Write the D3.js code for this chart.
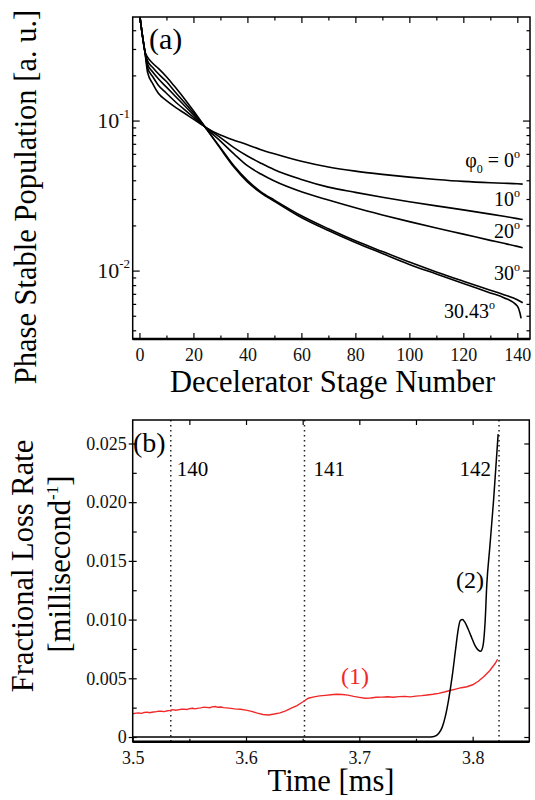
<!DOCTYPE html>
<html>
<head>
<meta charset="utf-8">
<script src="https://cdn.jsdelivr.net/npm/d3@7"></script>
<style>
  body { margin: 0; background: #fff; }
  svg { display: block; }
  svg text { font-family: 'Liberation Serif', 'Times New Roman', serif; }
</style>
</head>
<body>
<div id="chart"></div>
<script>
// ---- panel (a): phase stable population vs stage ----
const stages = [0, 1, 2, 3, 5, 7, 10, 13, 18, 23, 25, 30, 35, 40, 45, 50, 60, 70, 80, 90, 100, 110, 120, 130, 135, 140, 142];
const pop0  = [0.52, 0.38, 0.29, 0.21, 0.175, 0.152, 0.136, 0.124, 0.108, 0.094, 0.089, 0.080, 0.074, 0.069, 0.064, 0.060, 0.0535, 0.049, 0.046, 0.0438, 0.042, 0.0405, 0.0393, 0.0385, 0.0382, 0.0379, 0.0377];
const pop10 = [0.52, 0.38, 0.29, 0.225, 0.195, 0.172, 0.152, 0.135, 0.113, 0.095, 0.089, 0.077, 0.066, 0.058, 0.052, 0.047, 0.0405, 0.036, 0.0332, 0.0308, 0.0288, 0.027, 0.0254, 0.0238, 0.023, 0.0222, 0.0219];
const pop20 = [0.52, 0.38, 0.29, 0.237, 0.21, 0.19, 0.167, 0.147, 0.119, 0.096, 0.088, 0.073, 0.060, 0.050, 0.044, 0.0395, 0.0335, 0.0295, 0.0262, 0.0235, 0.0212, 0.0192, 0.0175, 0.0159, 0.0152, 0.0145, 0.0142];
const pop30 = [0.52, 0.38, 0.29, 0.25, 0.225, 0.205, 0.182, 0.157, 0.124, 0.097, 0.087, 0.066, 0.050, 0.040, 0.0335, 0.0295, 0.0232, 0.019, 0.0158, 0.0134, 0.0114, 0.0098, 0.0085, 0.0074, 0.0069, 0.0064, 0.0061];
const stages3043 = [0, 1, 2, 3, 5, 7, 10, 13, 18, 23, 25, 30, 35, 40, 45, 50, 60, 70, 80, 90, 100, 110, 120, 130, 135, 140, 141, 141.4];
const pop3043 = [0.52, 0.38, 0.29, 0.265, 0.24, 0.223, 0.196, 0.169, 0.13, 0.098, 0.087, 0.065, 0.049, 0.039, 0.033, 0.029, 0.0226, 0.0185, 0.0154, 0.013, 0.011, 0.0095, 0.0082, 0.0071, 0.0066, 0.0058, 0.0052, 0.0048];
const stageTicks = [0, 20, 40, 60, 80, 100, 120, 140];

// ---- panel (b): fractional loss rate vs time ----
const timeRed = [3.500, 3.503, 3.505, 3.508, 3.510, 3.513, 3.515, 3.518, 3.520, 3.523, 3.525, 3.528, 3.530, 3.533, 3.535, 3.538, 3.540, 3.543, 3.545, 3.548, 3.550, 3.553, 3.555, 3.558, 3.560, 3.563, 3.565, 3.568, 3.570, 3.573, 3.575, 3.578, 3.580, 3.585, 3.590, 3.595, 3.600, 3.605, 3.610, 3.615, 3.620, 3.625, 3.630, 3.635, 3.640, 3.645, 3.650, 3.655, 3.660, 3.665, 3.670, 3.675, 3.680, 3.685, 3.690, 3.695, 3.700, 3.705, 3.710, 3.715, 3.720, 3.725, 3.730, 3.735, 3.740, 3.745, 3.750, 3.755, 3.760, 3.765, 3.770, 3.775, 3.780, 3.785, 3.790, 3.795, 3.800, 3.805, 3.810, 3.815, 3.820, 3.822];
const lossRed = [0.00198, 0.00203, 0.00204, 0.00201, 0.00209, 0.00212, 0.00207, 0.00213, 0.00214, 0.00220, 0.00219, 0.00216, 0.00222, 0.00227, 0.00233, 0.00228, 0.00231, 0.00236, 0.00237, 0.00234, 0.00242, 0.00245, 0.00240, 0.00246, 0.00248, 0.00254, 0.00252, 0.00249, 0.00257, 0.00260, 0.00253, 0.00255, 0.00250, 0.00246, 0.00240, 0.00236, 0.00229, 0.00218, 0.00203, 0.00192, 0.00188, 0.00196, 0.00206, 0.00222, 0.00245, 0.00268, 0.00298, 0.00330, 0.00342, 0.00350, 0.00355, 0.00360, 0.00364, 0.00362, 0.00357, 0.00346, 0.00338, 0.00330, 0.00332, 0.00338, 0.00340, 0.00343, 0.00339, 0.00344, 0.00346, 0.00342, 0.00348, 0.00352, 0.00358, 0.00364, 0.00372, 0.00383, 0.00396, 0.00408, 0.00420, 0.00428, 0.00445, 0.00475, 0.00515, 0.00565, 0.00628, 0.00662];
const timeBlack = [3.5, 3.760, 3.766, 3.770, 3.773, 3.776, 3.779, 3.782, 3.785, 3.787, 3.789, 3.791, 3.793, 3.796, 3.799, 3.802, 3.805, 3.807, 3.809, 3.811, 3.8125, 3.815, 3.8185, 3.8225];
const lossBlack = [0, 0, 0.00005, 0.0003, 0.0008, 0.0018, 0.0033, 0.0052, 0.0075, 0.0090, 0.0099, 0.0100, 0.0098, 0.0092, 0.0085, 0.0078, 0.0074, 0.0073, 0.0077, 0.0098, 0.0130, 0.0160, 0.0202, 0.0258];
const transitTimes = [3.5336, 3.6516, 3.8233];
const transitLabels = ["140", "141", "142"];
const timeTicks = [3.5, 3.6, 3.7, 3.8];
const lossTicks = [0, 0.005, 0.010, 0.015, 0.020, 0.025];

const FONT = "'Liberation Serif', 'Times New Roman', serif";

let svg = d3.select("#chart").append("svg")
    .attr("width", 535)
    .attr("height", 800)
    .style("font-family", FONT);

// frames
let A = {left: 132.7, right: 530, top: 17, bottom: 339};
let B = {left: 132.7, right: 529.3, top: 420, bottom: 741.7};

// scales
let xA = d3.scaleLinear().domain([-2.5, 144.7]).range([A.left, A.right]);
let yA = d3.scaleLog().domain([0.49, 0.0035]).range([A.top, A.bottom]);
let xB = d3.scaleLinear().domain([3.5, 3.85]).range([B.left, B.right]);
let yB = d3.scaleLinear().domain([-0.0004, 0.027]).range([B.bottom, B.top]);

function styleAxis(g, size) {
    g.attr("font-family", null).attr("font-size", size);
    g.select(".domain").remove();
    g.selectAll(".tick line").attr("stroke", "#000").attr("stroke-width", 1.2);
    g.selectAll("text").attr("fill", "#111");
}

// ============ panel (a) ============
let gA = svg.append("g");

gA.append("clipPath").attr("id", "clipA")
    .append("rect")
    .attr("x", A.left).attr("y", A.top)
    .attr("width", A.right - A.left).attr("height", A.bottom - A.top);

// x axis (bottom) with labels, inward ticks
gA.append("g")
    .attr("transform", "translate(0," + A.bottom + ")")
    .call(d3.axisBottom(xA).tickValues(stageTicks).tickSize(-6).tickPadding(9).tickFormat(d3.format("d")))
    .call(g => styleAxis(g, 18));
gA.append("g")
    .attr("transform", "translate(0," + A.bottom + ")")
    .call(d3.axisBottom(xA).tickValues([10, 30, 50, 70, 90, 110, 130]).tickSize(-3.5).tickFormat(""))
    .call(g => styleAxis(g, 18));
// top
gA.append("g")
    .attr("transform", "translate(0," + A.top + ")")
    .call(d3.axisTop(xA).tickValues(stageTicks).tickSize(-6).tickFormat(""))
    .call(g => styleAxis(g, 18));
gA.append("g")
    .attr("transform", "translate(0," + A.top + ")")
    .call(d3.axisTop(xA).tickValues([10, 30, 50, 70, 90, 110, 130]).tickSize(-3.5).tickFormat(""))
    .call(g => styleAxis(g, 18));

// log y ticks
let majorLog = [0.1, 0.01];
let minorLog = [0.004, 0.005, 0.006, 0.007, 0.008, 0.009, 0.02, 0.03, 0.04, 0.05, 0.06, 0.07, 0.08, 0.09, 0.2, 0.3, 0.4];
[[A.left, d3.axisLeft], [A.right, d3.axisRight]].forEach(([xx, ax]) => {
    gA.append("g")
        .attr("transform", "translate(" + xx + ",0)")
        .call(ax(yA).tickValues(majorLog).tickSize(-7).tickFormat(""))
        .call(g => styleAxis(g, 18));
    gA.append("g")
        .attr("transform", "translate(" + xx + ",0)")
        .call(ax(yA).tickValues(minorLog).tickSize(-3.5).tickFormat(""))
        .call(g => styleAxis(g, 18));
});

// decade labels 10^-1, 10^-2
majorLog.forEach(v => {
    let t = gA.append("text")
        .attr("x", 130)
        .attr("y", yA(v) + 7.5)
        .attr("text-anchor", "end")
        .attr("font-size", 22)
        .attr("fill", "#111");
    t.append("tspan").text("10");
    t.append("tspan").attr("font-size", 13).attr("dy", -10).text(v === 0.1 ? "-1" : "-2");
});

// curves
let lineA = d3.line()
    .x(d => xA(d[0]))
    .y(d => yA(d[1]))
    .curve(d3.curveMonotoneX);

let curvesA = [
    [stages, pop0],
    [stages, pop10],
    [stages, pop20],
    [stages, pop30],
    [stages3043, pop3043]
];
curvesA.forEach(c => {
    gA.append("path")
        .datum(d3.zip(c[0], c[1]))
        .attr("clip-path", "url(#clipA)")
        .attr("fill", "none")
        .attr("stroke", "#000")
        .attr("stroke-width", 1.6)
        .attr("d", lineA);
});

// frame
gA.append("rect")
    .attr("x", A.left).attr("y", A.top)
    .attr("width", A.right - A.left).attr("height", A.bottom - A.top)
    .attr("fill", "none").attr("stroke", "#000").attr("stroke-width", 1.5);
gA.append("line")
    .attr("x1", A.left).attr("x2", A.right)
    .attr("y1", A.bottom).attr("y2", A.bottom)
    .attr("stroke", "#000").attr("stroke-width", 2.5);

// panel label
gA.append("text").attr("x", 149).attr("y", 49).attr("font-size", 30).text("(a)");

// curve labels
let phi = gA.append("text").attr("x", 520).attr("y", 167).attr("text-anchor", "end").attr("font-size", 20);
phi.append("tspan").text("\u03c6");
phi.append("tspan").attr("font-size", 12).attr("dy", 6).text("0");
phi.append("tspan").attr("dy", -6).text(" = 0");
phi.append("tspan").attr("font-size", 12).attr("dy", -9).text("o");

let phaseLabels = [["10", 206, 520], ["20", 238, 520], ["30", 280, 520], ["30.43", 318, 495]];
phaseLabels.forEach(p => {
    let t = gA.append("text").attr("x", p[2]).attr("y", p[1]).attr("text-anchor", "end").attr("font-size", 20);
    t.append("tspan").text(p[0]);
    t.append("tspan").attr("font-size", 12).attr("dy", -9).text("o");
});

// axis titles
gA.append("text")
    .attr("transform", "translate(36,197) rotate(-90)")
    .attr("text-anchor", "middle")
    .attr("font-size", 30.5)
    .text("Phase Stable Population [a. u.]");
gA.append("text")
    .attr("x", 332.5).attr("y", 392)
    .attr("text-anchor", "middle")
    .attr("font-size", 30.5)
    .text("Decelerator Stage Number");

// ============ panel (b) ============
let gB = svg.append("g");

gB.append("clipPath").attr("id", "clipB")
    .append("rect")
    .attr("x", B.left).attr("y", B.top)
    .attr("width", B.right - B.left).attr("height", B.bottom - B.top);

gB.append("g")
    .attr("transform", "translate(0," + B.bottom + ")")
    .call(d3.axisBottom(xB).tickValues(timeTicks).tickSize(-5).tickPadding(10).tickFormat(d3.format(".1f")))
    .call(g => styleAxis(g, 18));
gB.append("g")
    .attr("transform", "translate(0," + B.bottom + ")")
    .call(d3.axisBottom(xB).tickValues([3.55, 3.65, 3.75]).tickSize(-3).tickFormat(""))
    .call(g => styleAxis(g, 18));
gB.append("g")
    .attr("transform", "translate(0," + B.top + ")")
    .call(d3.axisTop(xB).tickValues([3.55, 3.6, 3.65, 3.7, 3.75, 3.8]).tickSize(-5).tickFormat(""))
    .call(g => styleAxis(g, 18));

let lossMinor = [0.0025, 0.0075, 0.0125, 0.0175, 0.0225];
gB.append("g")
    .attr("transform", "translate(" + B.left + ",0)")
    .call(d3.axisLeft(yB).tickValues(lossTicks).tickSize(4).tickPadding(2)
        .tickFormat(d => d === 0 ? "0" : d3.format(".3f")(d)))
    .call(g => styleAxis(g, 18));
gB.append("g")
    .attr("transform", "translate(" + B.left + ",0)")
    .call(d3.axisLeft(yB).tickValues(lossTicks.concat(lossMinor)).tickSize(-4).tickFormat(""))
    .call(g => styleAxis(g, 18));
gB.append("g")
    .attr("transform", "translate(" + B.right + ",0)")
    .call(d3.axisRight(yB).tickValues(lossTicks.concat(lossMinor)).tickSize(-5).tickFormat(""))
    .call(g => styleAxis(g, 18));

// dotted transit lines
transitTimes.forEach((t, i) => {
    gB.append("line")
        .attr("x1", xB(t)).attr("x2", xB(t))
        .attr("y1", B.top).attr("y2", B.bottom)
        .attr("stroke", "#222")
        .attr("stroke-width", 1.5)
        .attr("stroke-dasharray", "1.5,3.5");
});
gB.append("text").attr("x", xB(transitTimes[0]) + 6).attr("y", 476).attr("font-size", 21).text(transitLabels[0]);
gB.append("text").attr("x", xB(transitTimes[1]) + 9).attr("y", 476).attr("font-size", 21).text(transitLabels[1]);
gB.append("text").attr("x", xB(transitTimes[2]) - 8).attr("y", 476).attr("text-anchor", "end").attr("font-size", 21).text(transitLabels[2]);

let lineB = d3.line()
    .x(d => xB(d[0]))
    .y(d => yB(d[1]));

gB.append("path")
    .datum(d3.zip(timeRed, lossRed))
    .attr("clip-path", "url(#clipB)")
    .attr("fill", "none")
    .attr("stroke", "#f0282a")
    .attr("stroke-width", 1.4)
    .attr("d", lineB);

gB.append("path")
    .datum(d3.zip(timeBlack, lossBlack))
    .attr("clip-path", "url(#clipB)")
    .attr("fill", "none")
    .attr("stroke", "#000")
    .attr("stroke-width", 1.5)
    .attr("d", lineB.curve(d3.curveMonotoneX));

// frame
gB.append("rect")
    .attr("x", B.left).attr("y", B.top)
    .attr("width", B.right - B.left).attr("height", B.bottom - B.top)
    .attr("fill", "none").attr("stroke", "#000").attr("stroke-width", 1.5);
gB.append("line")
    .attr("x1", B.left).attr("x2", B.right)
    .attr("y1", B.bottom).attr("y2", B.bottom)
    .attr("stroke", "#000").attr("stroke-width", 2.5);

gB.append("text").attr("x", 133).attr("y", 452).attr("font-size", 28).text("(b)");
gB.append("text").attr("x", 341).attr("y", 684).attr("font-size", 24).attr("fill", "#f0282a").text("(1)");
gB.append("text").attr("x", 456).attr("y", 588).attr("font-size", 24).text("(2)");

// axis titles
gB.append("text")
    .attr("transform", "translate(33,566) rotate(-90)")
    .attr("text-anchor", "middle")
    .attr("font-size", 30.5)
    .text("Fractional Loss Rate");
let ms = gB.append("text")
    .attr("transform", "translate(70,564) rotate(-90)")
    .attr("text-anchor", "middle")
    .attr("font-size", 30.5);
ms.append("tspan").text("[millisecond");
ms.append("tspan").attr("font-size", 17).attr("dy", -12).text("-1");
ms.append("tspan").attr("dy", 12).text("]");

gB.append("text")
    .attr("x", 331).attr("y", 791)
    .attr("text-anchor", "middle")
    .attr("font-size", 30.5)
    .text("Time [ms]");
</script>
</body>
</html>
